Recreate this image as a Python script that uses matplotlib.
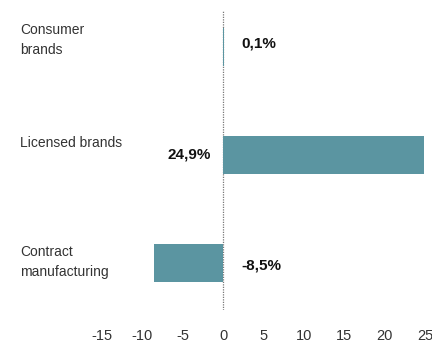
import matplotlib
matplotlib.use("Agg")
import matplotlib.pyplot as plt

# growth by segment, %
segmentos = ["Consumer\nbrands", "Licensed brands", "Contract\nmanufacturing"]
valores = [0.1, 24.9, -8.5]
rotulos = ["0,1%", "24,9%", "-8,5%"]
ticks_x = [-15, -10, -5, 0, 5, 10, 15, 20, 25]

plt.rcParams["font.family"] = ["Liberation Sans", "DejaVu Sans"]

cor = "#5b95a1"

fig = plt.figure(figsize=(4.32, 3.44), dpi=100)
ax = fig.add_axes([0.236, 0.099, 0.748, 0.872])

pos = list(range(len(segmentos)))
ax.axvline(0, color="#777777", linestyle=(0, (1, 1)), linewidth=0.9, zorder=1)
ax.barh(pos, valores, height=0.36, color=cor, zorder=2)

ax.set_xlim(-15, 25)
ax.set_ylim(2.435, -0.343)
ax.set_xticks(ticks_x)
ax.set_xticklabels([str(t) for t in ticks_x], fontsize=10.5, color="#333333")
ax.tick_params(axis="x", length=0, pad=14)
ax.set_yticks([])
for s in ax.spines.values():
    s.set_visible(False)

# category names on the left margin
desloc = [-0.065, -0.11, -0.01]
for p, nome, dy in zip(pos, segmentos, desloc):
    ax.annotate(nome, xy=(0, p + dy), xycoords=("figure fraction", "data"),
                xytext=(20, 0), textcoords="offset pixels",
                ha="left", va="center", fontsize=10, color="#333333",
                linespacing=1.6)

# value labels
for p, v, r in zip(pos, valores, rotulos):
    if v >= 20:
        ax.text(-1.5, p, r, ha="right", va="center", fontsize=11,
                fontweight="bold", color="#111111")
    else:
        ax.text(2.3, p - (0.03 if v > 0 else -0.02), r, ha="left", va="center",
                fontsize=11, fontweight="bold", color="#111111")

fig.savefig("out.png", dpi=100)
